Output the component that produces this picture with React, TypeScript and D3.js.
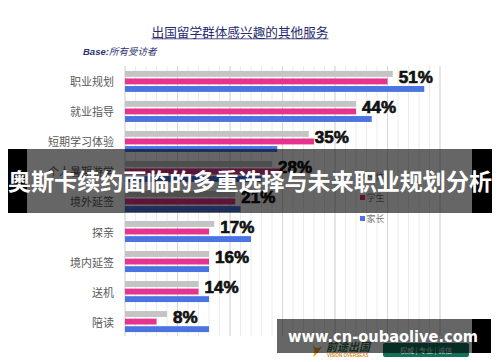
import React from "react";
import * as d3 from "d3";

// categories top to bottom
const categories = ["职业规划", "就业指导", "短期学习体验", "个人暑期游学", "境外延签", "探亲", "境内延签", "送机", "陪读"];
const seriesNames = ["总体", "学生", "家长"];
const totalValues = [51, 44, 35, 28, 21, 17, 16, 14, 8];
const studentValues = [50, 44, 36, 30, 21, 16, 16, 14, 6];
const parentValues = [57, 47, 29, 26, 22, 24, 16, 16, 16];
const seriesColors = ["#c4c4c4", "#e6338f", "#4a74e2"];

const W = 500;
const H = 362;

const App = () => {
  const x = d3.scaleLinear().domain([0, 60]).range([125, 440]);
  const y = d3.scaleBand()
    .domain(categories)
    .range([67, 336])
    .paddingInner(0.3)
    .paddingOuter(0.13);
  const ySub = d3.scaleBand()
    .domain(seriesNames)
    .range([0, y.bandwidth()])
    .paddingInner(0.22);

  const seriesValues = [totalValues, studentValues, parentValues];
  const minorTicks = x.ticks(30);
  const majorTicks = x.ticks(6);

  const font = "'Noto Sans CJK SC', 'Noto Sans', sans-serif";

  return (
    <svg width={W} height={H} style={{ position: "absolute", left: 0, top: 0, background: "#fff" }}>
      {/* title */}
      <text x={240} y={37} textAnchor="middle" fontFamily={font} fontSize={12.6} fill="#262a6e"
        textLength={177} lengthAdjust="spacingAndGlyphs">出国留学群体感兴趣的其他服务</text>
      <line x1={151.5} x2={328.5} y1={38.8} y2={38.8} stroke="#262a6e" strokeWidth={0.8} />
      <text x={83} y={55} fontFamily="'Liberation Sans', Arial, sans-serif" fontSize={9.5}
        fontStyle="italic" fontWeight="bold" fill="#2d3270">Base:<tspan fontWeight="normal" fontFamily={font}>所有受访者</tspan></text>

      {/* grid */}
      <g>
        {minorTicks.map((t) => (
          <line key={"m" + t} x1={x(t)} x2={x(t)} y1={66} y2={336} stroke="#ececec" strokeWidth={1} />
        ))}
        {majorTicks.map((t) => (
          <line key={"M" + t} x1={x(t)} x2={x(t)} y1={66} y2={336} stroke="#d6d6d6" strokeWidth={1} />
        ))}
      </g>

      {/* bars */}
      {categories.map((c, i) => (
        <g key={c} transform={`translate(0,${y(c)})`}>
          {seriesNames.map((s, j) => (
            <rect key={s} x={x(0)} y={ySub(s)} width={x(seriesValues[j][i]) - x(0)}
              height={ySub.bandwidth()} fill={seriesColors[j]} />
          ))}
          <text x={114} y={y.bandwidth() / 2} textAnchor="end" dominantBaseline="central"
            fontFamily={font} fontSize={11} fill="#5a5a5a">{c}</text>
          <text x={x(totalValues[i]) + 6} y={12} fontFamily="'Liberation Sans', Arial, sans-serif"
            fontSize={17} fontWeight="bold" fill="#111" stroke="#111" strokeWidth={0.7}>{totalValues[i]}%</text>
        </g>
      ))}

      {/* legend */}
      {seriesNames.map((s, j) => (
        <g key={s} transform={`translate(360,${174 + j * 21})`}>
          <rect x={0} y={0} width={5} height={5} fill={seriesColors[j]} />
          <text x={6.5} y={5.5} fontFamily={font} fontSize={9} fill="#777">{s}</text>
        </g>
      ))}

      {/* logo under watermark */}
      <path d="M310,341 Q316,352 322,346 Q318,354 313,357 Q317,350 310,341 Z" fill="#f0a020" />
      <text x={326} y={351} fontFamily={font} fontSize={11} fontStyle="italic" fontWeight="bold" fill="#2f6b4a">前途出国</text>
      <text x={327} y={357} fontFamily="'Liberation Sans', sans-serif" fontSize={4.5} fontWeight="bold" fill="#e08a1a">VISION OVERSEAS</text>
      <rect x={383} y={343} width={86} height={14} rx={2} fill="#15705a" />
      <text x={426} y={353} textAnchor="middle" fontFamily={font} fontSize={7} fill="#cfe8dc">权威 | 专业 | 诚信</text>

      {/* headline overlay */}
      <rect x={8} y={149} width={19} height={64} fill="#000" />
      <rect x={27} y={149} width={445} height={64} fill="rgba(0,0,0,0.6)" />
      <rect x={472} y={149} width={20} height={64} fill="#000" />
      <text x={250} y={190} textAnchor="middle" fontFamily={font} fontSize={23} fontWeight="bold" fill="#fff"
        textLength={484} lengthAdjust="spacingAndGlyphs">奥斯卡续约面临的多重选择与未来职业规划分析</text>

      {/* watermark */}
      <rect x={277} y={319} width={195} height={34} fill="rgba(0,0,0,0.6)" />
      <rect x={472} y={319} width={19} height={34} fill="#000" />
      <text x={288} y={342} fontFamily="'DejaVu Sans', sans-serif" fontSize={15} fontWeight="bold" fill="#fff"
        textLength={190} lengthAdjust="spacingAndGlyphs">www.cn-oubaolive.com</text>
    </svg>
  );
};

export default App;
